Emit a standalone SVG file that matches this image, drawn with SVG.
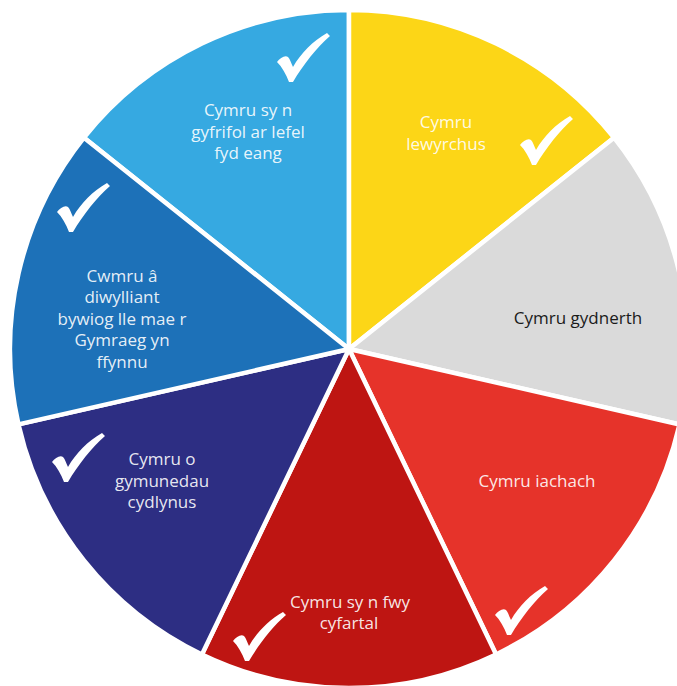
<svg xmlns="http://www.w3.org/2000/svg" xmlns:xlink="http://www.w3.org/1999/xlink" width="677" height="686" viewBox="0 0 677 686">
  <style>
    .slice { stroke: #ffffff; stroke-width: 4.5; }
    .lbl { font-family: "Open Sans", "Liberation Sans", sans-serif; font-size: 17px; text-anchor: middle; fill: #ffffff; fill-opacity: 0.9; }
    .dark { fill: #1a1a1a; fill-opacity: 1; }
    .tick { fill: #ffffff; }
  </style>
  <defs>
    <path id="check" d="M0,29 C3,25 8,22 11,24 C13,26 14,30 16,34 C24,20 36,8 50,0 L53,3 C40,14 26,32 16,49 L12,49 C9,41 5,34 0,29 Z"/>
  </defs>
  <rect width="677" height="686" fill="#ffffff"/>

  <g id="seg-gyfrifol">
    <path class="slice" fill="#36A9E1" d="M349,349 L83.96,137.64 A339,339 0 0 1 349,10 Z"/>
    <use href="#check" xlink:href="#check" class="tick" x="277" y="33"/>
    <text class="lbl"><tspan x="248" y="116">Cymru sy n</tspan><tspan x="248" y="137.7">gyfrifol ar lefel</tspan><tspan x="248" y="159.4">fyd eang</tspan></text>
  </g>

  <g id="seg-llewyrchus">
    <path class="slice" fill="#FCD617" d="M349,349 L349,10 A339,339 0 0 1 614.04,137.64 Z"/>
    <use href="#check" xlink:href="#check" class="tick" x="520" y="116"/>
    <text class="lbl"><tspan x="446" y="128">Cymru</tspan><tspan x="446" y="150">lewyrchus</tspan></text>
  </g>

  <g id="seg-gydnerth">
    <path class="slice" fill="#DADADA" d="M349,349 L614.04,137.64 A339,339 0 0 1 679.5,424.43 Z"/>
    <text class="lbl dark" x="578" y="324">Cymru gydnerth</text>
  </g>

  <g id="seg-iachach">
    <path class="slice" fill="#E6332A" d="M349,349 L679.5,424.43 A339,339 0 0 1 496.09,654.43 Z"/>
    <use href="#check" xlink:href="#check" class="tick" x="495" y="586"/>
    <text class="lbl" x="537" y="487">Cymru iachach</text>
  </g>

  <g id="seg-cyfartal">
    <path class="slice" fill="#BE1512" d="M349,349 L496.09,654.43 A339,339 0 0 1 201.91,654.43 Z"/>
    <use href="#check" xlink:href="#check" class="tick" x="233" y="612"/>
    <text class="lbl"><tspan x="350" y="607.5">Cymru sy n fwy</tspan><tspan x="349" y="629">cyfartal</tspan></text>
  </g>

  <g id="seg-cymunedau">
    <path class="slice" fill="#2D2E83" d="M349,349 L201.91,654.43 A339,339 0 0 1 18.5,424.43 Z"/>
    <use href="#check" xlink:href="#check" class="tick" x="52" y="433"/>
    <text class="lbl"><tspan x="162" y="465">Cymru o</tspan><tspan x="162" y="486.5">gymunedau</tspan><tspan x="162" y="508">cydlynus</tspan></text>
  </g>

  <g id="seg-diwylliant">
    <path class="slice" fill="#1D71B8" d="M349,349 L18.5,424.43 A339,339 0 0 1 83.96,137.64 Z"/>
    <use href="#check" xlink:href="#check" class="tick" x="57" y="183"/>
    <text class="lbl"><tspan x="122" y="281.7">Cwmru â</tspan><tspan x="122" y="303.2">diwylliant</tspan><tspan x="122" y="324.7">bywiog lle mae r</tspan><tspan x="122" y="346.2">Gymraeg yn</tspan><tspan x="122" y="367.7">ffynnu</tspan></text>
  </g>
</svg>
